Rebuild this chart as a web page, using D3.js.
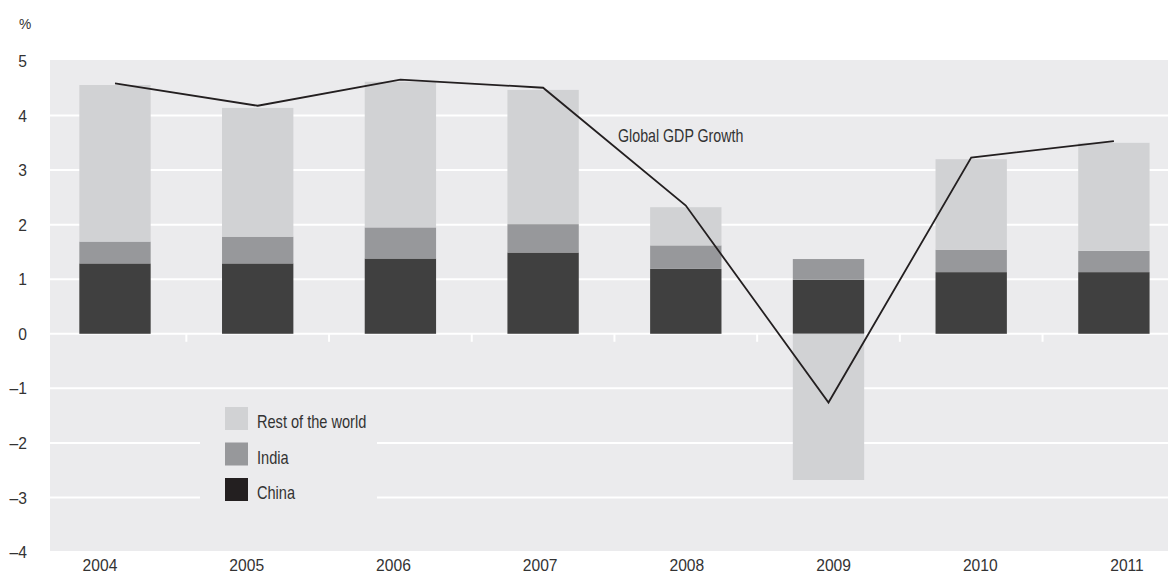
<!DOCTYPE html>
<html>
<head>
<meta charset="utf-8">
<script src="https://cdn.jsdelivr.net/npm/d3@7"></script>
<style>
  html, body { margin: 0; padding: 0; background: #fff; }
  #chart { width: 1168px; height: 581px; }
  .tick-label { font-family: "Liberation Sans", Arial, sans-serif; font-size: 17px; fill: #333; }
  .narrow { font-family: "Liberation Sans", Arial, sans-serif; font-size: 18px; fill: #333; }
</style>
</head>
<body>
<div id="chart"></div>
<script>
// contributions to global GDP growth, percentage points
const years = ["2004", "2005", "2006", "2007", "2008", "2009", "2010", "2011"];
const china = [1.29, 1.29, 1.38, 1.49, 1.19, 0.99, 1.13, 1.13];
const india = [0.40, 0.49, 0.57, 0.52, 0.43, 0.38, 0.41, 0.39];
const rest  = [2.87, 2.36, 2.67, 2.46, 0.70, -2.68, 1.66, 1.98];
const gdp   = [4.59, 4.18, 4.66, 4.51, 2.35, -1.26, 3.23, 3.53];
const yTicks = [5, 4, 3, 2, 1, 0, -1, -2, -3, -4];

const keys = ["China", "India", "Rest of the world"];
const colors = d3.scaleOrdinal()
    .domain(keys)
    .range(["#404040", "#97989b", "#d1d2d4"]);
const legendColors = { "China": "#231f20", "India": "#97989b", "Rest of the world": "#d1d2d4" };

const rows = years.map((y, i) => ({
    year: y, "China": china[i], "India": india[i], "Rest of the world": rest[i], gdp: gdp[i]
}));

const width = 1168, height = 581;
const svg = d3.select("#chart").append("svg")
    .attr("width", width)
    .attr("height", height);

const x = d3.scaleBand()
    .domain(years)
    .range([43.65, 43.65 + 8 * 142.7])
    .paddingInner(0.5)
    .paddingOuter(0.25);

// the year labels sit on a slightly wider spacing than the bars
const xLabel = d3.scalePoint()
    .domain(years)
    .range([100, 1127]);

const y = d3.scaleLinear()
    .domain([-4, 5])
    .range([552, 61]);

const bgLeft = 50, bgRight = width;

// plot background
svg.append("rect")
    .attr("x", bgLeft).attr("y", y(5) - 1)
    .attr("width", bgRight - bgLeft)
    .attr("height", y(-4) - y(5) + 1)
    .attr("fill", "#ebebed");

// gridlines
svg.append("g")
    .selectAll("line")
    .data(yTicks.filter(d => d < 5))
    .join("line")
    .attr("x1", bgLeft).attr("x2", bgRight)
    .attr("y1", d => y(d)).attr("y2", d => y(d))
    .attr("stroke", "#fff")
    .attr("stroke-width", 2);

// category ticks on the zero line
const step = x.step();
svg.append("g")
    .selectAll("line")
    .data(years.slice(1))
    .join("line")
    .attr("x1", d => x(d) - step * 0.25)
    .attr("x2", d => x(d) - step * 0.25)
    .attr("y1", y(0))
    .attr("y2", y(0) + 8)
    .attr("stroke", "#fff")
    .attr("stroke-width", 2);

// stacked bars
const series = d3.stack()
    .keys(keys)
    .offset(d3.stackOffsetDiverging)(rows);

svg.append("g")
    .selectAll("g")
    .data(series)
    .join("g")
    .attr("fill", d => colors(d.key))
    .selectAll("rect")
    .data(d => d)
    .join("rect")
    .attr("x", d => x(d.data.year))
    .attr("width", x.bandwidth())
    .attr("y", d => y(Math.max(d[0], d[1])))
    .attr("height", d => Math.abs(y(d[0]) - y(d[1])));

// legend, on a patch of background that hides the gridlines
svg.append("rect")
    .attr("x", 200).attr("y", 396)
    .attr("width", 177).attr("height", 118)
    .attr("fill", "#ebebed");

const legend = svg.append("g")
    .selectAll("g")
    .data(keys.slice().reverse())
    .join("g")
    .attr("transform", (d, i) => `translate(225,${407 + i * 35.5})`);

legend.append("rect")
    .attr("width", 23).attr("height", 23)
    .attr("fill", d => legendColors[d]);

legend.append("text")
    .attr("class", "narrow")
    .attr("transform", "translate(32,21) scale(0.81,1)")
    .text(d => d);

// global GDP growth line
svg.append("path")
    .datum(rows)
    .attr("fill", "none")
    .attr("stroke", "#231f20")
    .attr("stroke-width", 1.8)
    .attr("stroke-linejoin", "miter")
    .attr("d", d3.line()
        .x(d => x(d.year) + x.bandwidth() / 2)
        .y(d => y(d.gdp)));

svg.append("text")
    .attr("class", "narrow")
    .attr("transform", "translate(618,142) scale(0.79,1)")
    .text("Global GDP Growth");

// y axis labels
svg.append("g")
    .selectAll("text")
    .data(yTicks)
    .join("text")
    .attr("class", "tick-label")
    .attr("transform", d => `translate(27,${y(d)}) scale(0.92,1)`)
    .attr("dy", "0.36em")
    .attr("text-anchor", "end")
    .text(d => d < 0 ? "\u2013" + Math.abs(d) : d);

svg.append("text")
    .attr("class", "tick-label")
    .attr("transform", "translate(19,29) scale(0.92,1)")
    .style("font-size", "15px")
    .text("%");

// x axis labels
svg.append("g")
    .selectAll("text")
    .data(years)
    .join("text")
    .attr("class", "tick-label")
    .attr("transform", d => `translate(${xLabel(d)},571) scale(0.92,1)`)
    .attr("text-anchor", "middle")
    .text(d => d);
</script>
</body>
</html>
